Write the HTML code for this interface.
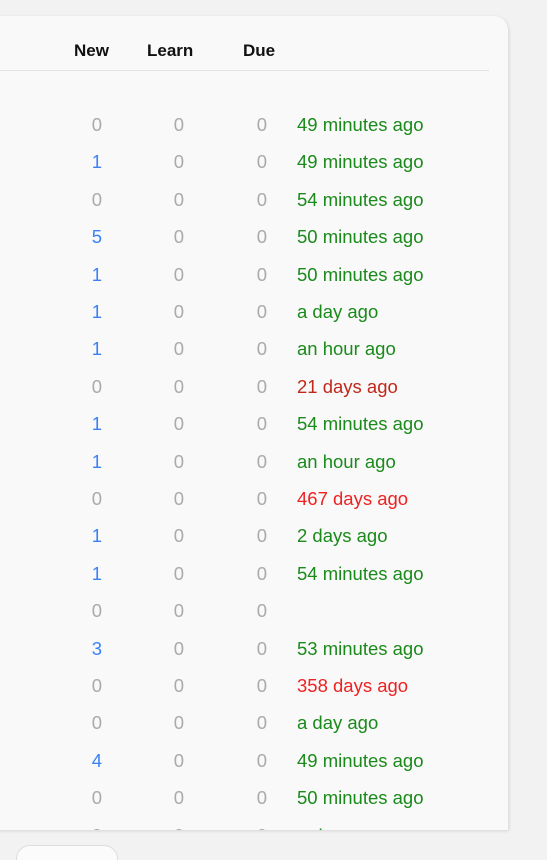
<!DOCTYPE html>
<html><head><meta charset="utf-8"><style>
html,body{margin:0;width:547px;height:860px;overflow:hidden}
body{background:#f2f2f2;position:relative;font-family:"Liberation Sans",sans-serif}
#card{position:absolute;left:-20px;top:16px;width:528px;height:814px;background:#f9f9f9;border-radius:0 14px 0 0;box-shadow:1px 1px 3px rgba(0,0,0,0.12);overflow:hidden}
#clip{position:absolute;left:0;top:16px;width:508px;height:814px;overflow:hidden}
.h{position:absolute;top:41px;font-size:17px;font-weight:bold;color:#111}
#div{position:absolute;left:0;top:70px;width:489px;height:1px;background:#e2e2e2}
.c{position:absolute;font-size:18.5px;line-height:20px;white-space:nowrap}
.n{text-align:right;width:40px}
#btn{position:absolute;left:16px;top:845px;width:100px;height:30px;background:#fbfbfb;border:1px solid #ddd;border-radius:14px}
</style></head><body>
<div id="card"></div>
<div class="h" style="left:74px">New</div>
<div class="h" style="left:147px">Learn</div>
<div class="h" style="left:243px">Due</div>
<div id="div"></div>
<div id="clip"><div id="rows"></div></div>
<div id="btn"></div>
<script>
const newCounts=[0,1,0,5,1,1,1,0,1,1,0,1,1,0,3,0,0,4,0,0];
const times=["49 minutes ago","49 minutes ago","54 minutes ago","50 minutes ago","50 minutes ago","a day ago","an hour ago","21 days ago","54 minutes ago","an hour ago","467 days ago","2 days ago","54 minutes ago","","53 minutes ago","358 days ago","a day ago","49 minutes ago","50 minutes ago","a day ago"];
const timeColors=["g","g","g","g","g","g","g","d","g","g","r","g","g","g","g","r","g","g","g","g"];
const rows=document.getElementById('rows');
const colMap={g:"#1a8a1a",d:"#c0281a",r:"#ee2222"};
for(let i=0;i<newCounts.length;i++){
  const y=115-16+i*37.4;
  const mk=(txt,left,cls,color,name)=>{
    const d=document.createElement('div');
    d.className='c '+cls;d.style.left=left+'px';d.style.top=y+'px';d.style.color=color;d.textContent=txt;
    
    
    rows.appendChild(d);
  };
  mk(newCounts[i],62,'n',newCounts[i]>0?'#3b82f6':'#aaa','new-count');
  mk(0,144,'n','#aaa','learn-count');
  mk(0,227,'n','#aaa','due-count');
  mk(times[i],297,'',colMap[timeColors[i]],'last-review-time');
}
</script>
</body></html>
